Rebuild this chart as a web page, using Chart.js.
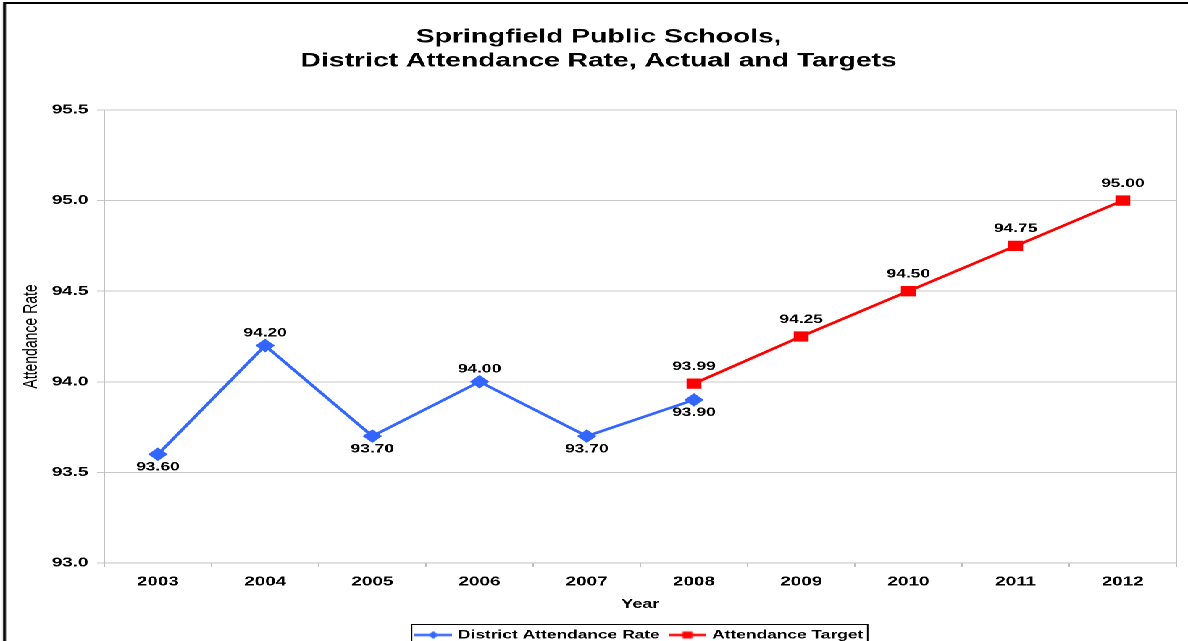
<!DOCTYPE html>
<html>
<head>
<meta charset="utf-8">
<script src="https://cdn.jsdelivr.net/npm/chart.js@4"></script>
<style>
  body { margin: 0; background: #fff; overflow: hidden; }
  /* the reference is an Excel chart stretched sideways, so draw narrow and stretch */
  #wrap { position: absolute; left: 0; top: 0; width: 820px; height: 700px; transform: scaleX(1.4488); transform-origin: 0 0; }
  #frame { position: absolute; left: 2.3px; top: 2px; width: 900px; height: 700px; border: 2px solid #000; }
  #attChart { position: absolute; left: 0; top: 0; }
</style>
</head>
<body>
<div id="wrap">
  <div id="frame"></div>
  <canvas id="attChart" width="820" height="651"></canvas>
</div>
<script>
const years = ['2003', '2004', '2005', '2006', '2007', '2008', '2009', '2010', '2011', '2012'];
const actualRate = [93.6, 94.2, 93.7, 94.0, 93.7, 93.9, null, null, null, null];
const targetRate = [null, null, null, null, null, 93.99, 94.25, 94.5, 94.75, 95.0];
const yTicks = [93.0, 93.5, 94.0, 94.5, 95.0, 95.5];

const FONT = "'Liberation Sans', Arial, sans-serif";
const BLUE = '#3366FF';
const RED = '#FF0000';

// legend swatch: short line with the marker in the middle
function swatch(color, shape) {
  const c = document.createElement('canvas');
  c.width = 26; c.height = 10;
  const g = c.getContext('2d');
  g.strokeStyle = color; g.lineWidth = 2.5;
  g.beginPath(); g.moveTo(0, 5); g.lineTo(26, 5); g.stroke();
  g.fillStyle = color;
  if (shape === 'diamond') {
    g.beginPath(); g.moveTo(13, 1); g.lineTo(16.5, 5); g.lineTo(13, 9); g.lineTo(9.5, 5); g.closePath(); g.fill();
  } else {
    g.fillRect(9.5, 1.5, 7, 7);
  }
  return c;
}

// value labels next to each point
const valueLabels = {
  id: 'valueLabels',
  afterDatasetsDraw(chart, args, opts) {
    const ctx = chart.ctx;
    ctx.save();
    ctx.font = 'bold 12px ' + FONT;
    ctx.fillStyle = '#000';
    ctx.textAlign = 'center';
    ctx.textBaseline = 'middle';
    chart.data.datasets.forEach((ds, di) => {
      const meta = chart.getDatasetMeta(di);
      meta.data.forEach((pt, i) => {
        const v = ds.data[i];
        if (v == null) return;
        const dy = opts.positions[di][i] === 'below' ? 13 : -opts.above[di];
        ctx.fillText(v.toFixed(2), pt.x, pt.y + dy);
      });
    });
    ctx.restore();
  }
};

// title a bit right of canvas centre, legend centred under the plot,
// right edge of the plot and the box around the legend
const frameBits = {
  id: 'frameBits',
  afterLayout(chart) {
    const a = chart.chartArea, lg = chart.legend, tb = chart.titleBlock;
    if (lg) { lg.left = a.left; lg.right = a.right; }
    if (tb) { tb.left += 2.5; tb.right += 2.5; }
  },
  beforeDatasetsDraw(chart) {
    const a = chart.chartArea, ctx = chart.ctx;
    ctx.save();
    ctx.strokeStyle = '#c0c0c0'; ctx.lineWidth = 1;
    ctx.beginPath(); ctx.moveTo(a.right, a.top); ctx.lineTo(a.right, a.bottom); ctx.stroke();
    ctx.restore();
  },
  afterDraw(chart) {
    const lg = chart.legend, ctx = chart.ctx;
    if (!lg || !lg.legendHitBoxes.length) return;
    const boxes = lg.legendHitBoxes;
    const x0 = Math.min(...boxes.map(b => b.left)) - 4;
    const x1 = Math.max(...boxes.map(b => b.left + b.width)) + 3;
    const y0 = boxes[0].top - 5;
    ctx.save();
    ctx.strokeStyle = '#000'; ctx.lineWidth = 1;
    ctx.strokeRect(x0, Math.round(y0) + 0.5, x1 - x0, 24);
    ctx.restore();
  }
};

new Chart(document.getElementById('attChart'), {
  type: 'line',
  data: {
    labels: years,
    datasets: [{
      label: 'District Attendance Rate',
      data: actualRate,
      borderColor: BLUE,
      backgroundColor: BLUE,
      borderWidth: 2.5,
      pointStyle: 'rectRot',
      pointRadius: 5,
      pointHoverRadius: 5,
      fill: false,
      tension: 0
    }, {
      label: 'Attendance Target',
      data: targetRate,
      borderColor: RED,
      backgroundColor: RED,
      borderWidth: 2.5,
      pointStyle: 'rect',
      pointRadius: 5.5,
      pointHoverRadius: 5.5,
      fill: false,
      tension: 0
    }]
  },
  options: {
    responsive: false,
    animation: false,
    devicePixelRatio: 2,
    layout: { padding: { left: 3, right: 1.5, top: 0, bottom: 0 } },
    plugins: {
      title: {
        display: true,
        text: ['Springfield Public Schools,', 'District Attendance Rate, Actual and Targets'],
        color: '#000',
        font: { family: FONT, size: 19.5, weight: 'bold', lineHeight: 1.23 },
        padding: { top: 25, bottom: 37 }
      },
      legend: {
        position: 'bottom',
        labels: {
          color: '#000',
          font: { family: FONT, size: 12, weight: 'bold' },
          usePointStyle: true,
          pointStyleWidth: 22,
          padding: 8,
          generateLabels(chart) {
            return chart.data.datasets.map((ds, i) => ({
              text: ds.label,
              datasetIndex: i,
              pointStyle: swatch(ds.borderColor, i === 0 ? 'diamond' : 'square'),
              fillStyle: ds.borderColor,
              strokeStyle: ds.borderColor,
              lineWidth: 0,
              hidden: false,
              fontColor: '#000'
            }));
          }
        }
      },
      tooltip: { enabled: false },
      valueLabels: {
        above: [12.5, 17],
        positions: [
          ['below', 'above', 'below', 'above', 'below', 'below', 'below', 'below', 'below', 'below'],
          ['above', 'above', 'above', 'above', 'above', 'above', 'above', 'above', 'above', 'above']
        ]
      }
    },
    scales: {
      x: {
        offset: true,
        grid: { display: true, drawOnChartArea: false, drawTicks: true, tickLength: 4, color: '#c0c0c0', offset: true },
        border: { color: '#c0c0c0' },
        ticks: { color: '#000', font: { family: FONT, size: 13, weight: 'bold', lineHeight: 1.0 }, padding: 8.5, maxRotation: 0 },
        title: { display: true, text: 'Year', color: '#000', font: { family: FONT, size: 12.5, weight: 'bold' }, padding: { top: 0, bottom: 9 } }
      },
      y: {
        min: 93.0,
        max: 95.5,
        afterBuildTicks(scale) { scale.ticks = yTicks.map(v => ({ value: v })); },
        afterFit(scale) { scale.width = 69; },
        grid: { color: '#c8c8c8', tickLength: 5 },
        border: { color: '#c0c0c0' },
        ticks: { color: '#000', font: { family: FONT, size: 13, weight: 'bold' }, padding: 6, callback: v => Number(v).toFixed(1) },
        title: { display: true, text: 'Attendance Rate', color: '#000', font: { family: FONT, size: 14 }, padding: { top: 10, bottom: 0 } }
      }
    }
  },
  plugins: [valueLabels, frameBits]
});
</script>
</body>
</html>
